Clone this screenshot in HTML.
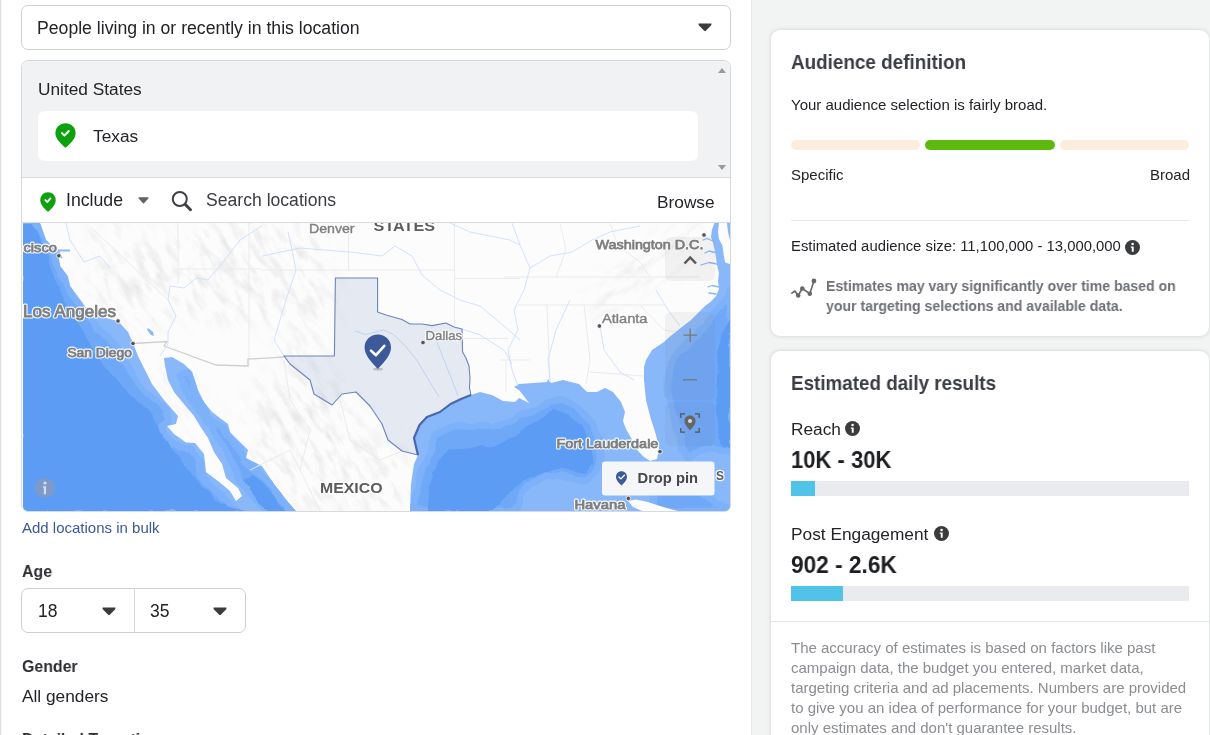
<!DOCTYPE html>
<html><head><meta charset="utf-8"><style>
*{box-sizing:border-box;margin:0;padding:0}
html,body{width:1210px;height:735px;overflow:hidden;background:#f2f4f4;font-family:"Liberation Sans",sans-serif;color:#222428}
.abs{position:absolute}
#left{position:absolute;left:0;top:0;width:752px;height:735px;background:#fff;border-left:1px solid #e0e3e4;border-right:1px solid #e7eaea;box-shadow:inset 1px 0 0 #f6f7f7}
.t{position:absolute;white-space:nowrap;line-height:20px;height:20px;transform-origin:0 50%;will-change:transform}
.b{font-weight:700}
#sel{left:21px;top:5px;width:710px;height:45px;border:1px solid #ccd0d5;border-radius:7px;background:#fff}
#loc{left:21px;top:60px;width:710px;height:452px;border:1px solid #d6d9dd;border-radius:7px;background:#fff;overflow:hidden}
#locgray{left:0;top:0;width:709px;height:117px;background:#f1f2f3;border-bottom:1px solid #d9dbdf}
#texas{left:16px;top:50px;width:660px;height:50px;background:#fff;border-radius:7px}
.card{position:absolute;background:#fff;border-radius:9px;box-shadow:0 0 4px rgba(0,0,0,.15)}
.bar{position:absolute;height:10px;border-radius:5px}
.pbar{position:absolute;left:791px;width:398px;height:15px;background:#e9ebee}
.pbar i{position:absolute;left:0;top:0;height:15px;background:#4fc3e8;display:block}
.hr{position:absolute;height:1px;background:#e4e6e9}
.ml,.mlh,.mc,.mch,.ml2,.ml2h{font-family:"Liberation Sans",sans-serif}
.ml2h{font-weight:400;fill:#fff;stroke:#fff;stroke-width:2.600px;stroke-linejoin:round;opacity:.9}
.ml2{font-weight:400;fill:#808080;stroke:#808080;stroke-width:.4px}
.mlh{font-weight:400;fill:#fff;stroke:#fff;stroke-width:3px;stroke-linejoin:round;opacity:.9}
.ml{font-weight:400;fill:#7e7e7e;stroke:#7e7e7e;stroke-width:.75px}
.mch{font-weight:700;fill:#fff;stroke:#fff;stroke-width:2.500px;stroke-linejoin:round;opacity:.9}
.mc{font-weight:700;fill:#5c5c5c}
</style></head><body>
<div id="left"></div>

<!-- select -->
<div id="sel" class="abs"></div>
<div class="t" style="left:37px;top:17.5px;font-size:17.65px;color:#222428">People living in or recently in this location</div>
<svg class="abs" style="left:698px;top:23px" width="14" height="9" viewBox="0 0 14 9"><path d="M0.6 0.5 L13.4 0.5 Q13.8 1.6 13 2.4 L7.8 7.8 Q7 8.5 6.2 7.8 L1 2.4 Q0.2 1.6 0.6 0.5Z" fill="#3a3b3d"/></svg>

<!-- location box -->
<div id="loc" class="abs">
  <div id="locgray" class="abs"><div id="texas" class="abs"></div></div>
</div>
<div class="t" style="left:37.5px;top:78.5px;font-size:17.3px">United States</div>
<div class="t" style="left:92.5px;top:126px;font-size:17.3px">Texas</div>
<svg class="abs" style="left:55px;top:123px" width="21" height="25" viewBox="0 0 21 25"><path d="M10.5 0.2C4.6 0.2 0.4 4.6 0.4 10.2c0 5.6 5.2 10.4 10.1 14.6 4.900-4.200 10.100-9 10.100-14.600C20.600 4.600 16.400 0.200 10.500 0.200Z" fill="#0da20d"/><path d="M7 10.100l2.500 2.400 4.300-4.500" fill="none" stroke="#fff" stroke-width="1.900" stroke-linecap="round" stroke-linejoin="round"/></svg>
<svg class="abs" style="left:718px;top:67.500px" width="8" height="5" viewBox="0 0 8 5"><path d="M0 5L4 0L8 5Z" fill="#9b9b9b"/></svg>
<svg class="abs" style="left:718px;top:165px" width="8" height="5" viewBox="0 0 8 5"><path d="M0 0L4 5L8 0Z" fill="#9b9b9b"/></svg>

<!-- include row -->
<svg class="abs" style="left:40px;top:192px" width="16" height="20" viewBox="0 0 21 25" preserveAspectRatio="none"><path d="M10.500 0.200C4.600 0.200 0.400 4.600 0.400 10.200c0 5.600 5.200 10.400 10.100 14.600 4.900-4.200 10.100-9 10.100-14.600C20.600 4.600 16.400 0.200 10.500 0.200Z" fill="#0da20d"/><path d="M7 10.100l2.500 2.400 4.300-4.500" fill="none" stroke="#fff" stroke-width="2.300" stroke-linecap="round" stroke-linejoin="round"/></svg>
<div class="t" style="left:66px;top:189.600px;font-size:17.700px">Include</div>
<svg class="abs" style="left:138px;top:197.400px" width="11" height="7" viewBox="0 0 11 7"><path d="M0.600 0.300L10.400 0.300Q10.800 0.900 10.300 1.500L6 6.200Q5.500 6.600 5 6.200L0.700 1.500Q0.200 0.900 0.600 0.300Z" fill="#606266"/></svg>
<svg class="abs" style="left:171px;top:190px" width="22" height="22" viewBox="0 0 22 22"><circle cx="8.800" cy="9" r="7" fill="none" stroke="#3e4044" stroke-width="2"/><path d="M14.200 14.400L19.500 19.700" stroke="#3e4044" stroke-width="2.900" stroke-linecap="round"/></svg>
<div class="t" style="left:206px;top:189.600px;font-size:17.600px;color:#3a3c40">Search locations</div>
<div class="t" style="left:657px;top:192px;font-size:17.300px">Browse</div>
<div class="hr" style="left:22px;top:222px;width:708px;background:#d9dbdf"></div>

<!-- MAP -->
<svg id="map" class="abs" style="left:23px;top:223px;border-radius:0 0 5px 5px;will-change:transform" width="707" height="288" viewBox="23 223 707 288">
<defs>
<filter id="bl"><feGaussianBlur stdDeviation="3"/></filter>
<filter id="bl2"><feGaussianBlur stdDeviation="14"/></filter>
<filter id="relieff" x="0" y="0" width="100%" height="100%"><feTurbulence type="fractalNoise" baseFrequency="0.04 0.12" numOctaves="4" seed="11" result="n"/><feColorMatrix in="n" type="matrix" values="0 0 0 0 0.64  0 0 0 0 0.64  0 0 0 0 0.64  1.200 0 0 0 -0.540"/></filter>
<filter id="rough" x="-2%" y="-2%" width="104%" height="104%"><feTurbulence type="fractalNoise" baseFrequency="0.045" numOctaves="3" seed="3" result="n"/><feDisplacementMap in="SourceGraphic" in2="n" scale="7" xChannelSelector="R" yChannelSelector="G"/></filter>
<mask id="reliefm"><g filter="url(#bl2)" fill="#fff">
<ellipse cx="130" cy="275" rx="40" ry="60" transform="rotate(-35 130 275)"/>
<ellipse cx="230" cy="270" rx="80" ry="50"/>
<ellipse cx="300" cy="290" rx="30" ry="70"/>
<ellipse cx="310" cy="440" rx="55" ry="80" transform="rotate(-25 310 440)"/>
<ellipse cx="385" cy="480" rx="25" ry="40"/>
<ellipse cx="190" cy="400" rx="10" ry="50" transform="rotate(-30 190 400)"/>
</g></mask>
<mask id="reliefm2"><g filter="url(#bl2)" fill="#fff"><ellipse cx="645" cy="268" rx="16" ry="75" transform="rotate(52 645 268)"/></g></mask>
</defs>
<rect x="22" y="223" width="708" height="288" fill="#fcfcfc"/>
<g id="relief"><g mask="url(#reliefm)"><rect x="-400" y="-400" width="1600" height="1600" filter="url(#relieff)" transform="rotate(60 376 367)"/></g><g mask="url(#reliefm2)"><rect x="-400" y="-400" width="1600" height="1600" filter="url(#relieff)" transform="rotate(-38 376 367)"/></g></g><!--/relief-->
<g id="water"><clipPath id="wclip"><path d="M22 223 L40 223 L46 240 L58 252 L60 266 L68 276 L70 286 L82 302 L86 308 L106 318 L118 321 L128 332 L133 343 L138 356 L142 364 L152 384 L164 400 L178 416 L176 424 L167 426 L174 434 L186 442.5 L195 443 L204 454 L206 472 L218 481 L230 491 L236 501 L242 496 L238 488 L226 478 L222 464 L214 452 L208 438 L200 426 L194 416 L184 404 L174 392 L168 380 L165 366 L164 358 L172 357 L184 364 L192 372 L198 390 L204 402 L212 412 L228 424 L230 432 L240 442 L248 450 L246 458 L262 466 L274 484 L288 502 L296 511 L22 511Z"/><path d="M410 511 L411 484 L414 464 L418 455 L417 451 L414 438 L419.5 425 L427 417 L440 412 L450.5 404 L461 399 L471 395 L480 392 L492 395 L503 401 L515 402 L519 398 L529 403 L523 395 L519 390 L514 387 L519 384 L533 383 L547 382 L548 379 L551 383 L563 380 L579 384 L587 392 L597 392 L605 388 L613 392 L621 402 L625 412 L623 421 L626 429 L634 443 L638 451 L644 457 L650 461 L657 459 L659 449 L656 435 L650 416 L646 400 L644 380 L644 367 L646 360 L652 350 L658 346 L664 342 L670 336.5 L680.6 328 L691 320 L699 312 L705 306 L711 301.6 L716 296 L719 289 L718 281 L719 272 L725 265 L730 264 L730 511Z"/></clipPath>
<path d="M22 223 L40 223 L46 240 L58 252 L60 266 L68 276 L70 286 L82 302 L86 308 L106 318 L118 321 L128 332 L133 343 L138 356 L142 364 L152 384 L164 400 L178 416 L176 424 L167 426 L174 434 L186 442.5 L195 443 L204 454 L206 472 L218 481 L230 491 L236 501 L242 496 L238 488 L226 478 L222 464 L214 452 L208 438 L200 426 L194 416 L184 404 L174 392 L168 380 L165 366 L164 358 L172 357 L184 364 L192 372 L198 390 L204 402 L212 412 L228 424 L230 432 L240 442 L248 450 L246 458 L262 466 L274 484 L288 502 L296 511 L22 511Z" fill="#89b8fa"/>
<path d="M410 511 L411 484 L414 464 L418 455 L417 451 L414 438 L419.5 425 L427 417 L440 412 L450.5 404 L461 399 L471 395 L480 392 L492 395 L503 401 L515 402 L519 398 L529 403 L523 395 L519 390 L514 387 L519 384 L533 383 L547 382 L548 379 L551 383 L563 380 L579 384 L587 392 L597 392 L605 388 L613 392 L621 402 L625 412 L623 421 L626 429 L634 443 L638 451 L644 457 L650 461 L657 459 L659 449 L656 435 L650 416 L646 400 L644 380 L644 367 L646 360 L652 350 L658 346 L664 342 L670 336.5 L680.6 328 L691 320 L699 312 L705 306 L711 301.6 L716 296 L719 289 L718 281 L719 272 L725 265 L730 264 L730 511Z" fill="#89b8fa"/>
<g clip-path="url(#wclip)"><g filter="url(#rough)">
<path d="M22 223 L37 223 L44 240 L54 254 L62 274 L70 290 L80 305 L88 316 L96 326 L106 336 L116 348 L125 362 L136 379 L146 392 L156 400 L164 410 L168 421 L160 428 L168 439 L180 448 L192 450 L199 459 L201 475 L211 487 L223 497 L231 507 L238 511 L22 511Z" fill="#6fa8f8" stroke="#7db1f9" stroke-width="7" stroke-linejoin="round"/>
<path d="M180 376 L190 396 L200 412 L212 428 L222 444 L232 462 L240 478 L250 494 L262 506 L272 511 L292 511 L284 500 L272 486 L260 472 L244 462 L240 448 L228 436 L222 428 L208 418 L200 404 L194 388 L188 372Z" fill="#6fa8f8" stroke="#7db1f9" stroke-width="7" stroke-linejoin="round"/>
<path d="M411.6 511 L420.8 472.6 L430 449.4 L434.7 433.2 L457.9 426.3 L492.6 426.3 L515.7 419.3 L534.2 410 L548 403 L562 398.5 L580.5 410 L592 421.7 L599 440 L601.3 456.4 L596.7 472.6 L585 481.8 L562 477 L543.5 475 L529.6 484 L520.3 495.7 L515.7 511Z" fill="#6fa8f8" stroke="#7db1f9" stroke-width="7" stroke-linejoin="round"/>
<path d="M730 290 L726 300 L716 312 L704 326 L692 338 L680 350 L672 362 L668 376 L668 392 L672 412 L678 432 L682 450 L690 458 L700 452 L716 448 L730 452Z" fill="#6fa8f8" stroke="#7db1f9" stroke-width="7" stroke-linejoin="round"/>
<path d="M650 511 L656 490 L668 478 L690 482 L704 494 L716 503 L730 507 L730 511Z" fill="#6fa8f8" stroke="#7db1f9" stroke-width="7" stroke-linejoin="round"/>
<path d="M22 223 L33 223 L39 240 L48 257 L55 277 L62 294 L71 310 L77 324 L87 340 L96 355 L107 369 L119 383 L133 397 L147 410 L156 423 L164 435 L174 450 L184 463 L194 475 L203 486 L214 498 L228 507 L245 511 L22 511Z" fill="#5b9cf5"/>
<path d="M244 478 L252 494 L262 506 L268 511 L286 511 L278 500 L266 486 L254 474Z" fill="#5b9cf5"/>
<path d="M427.8 511 L430 484 L437 461 L451 449.4 L492.6 447 L520.3 433 L538.9 419.3 L552.7 410 L566.6 414.7 L582.8 426.3 L592 444.8 L594.4 461 L585 472.6 L562 470 L543.5 470 L525 479.5 L511 491 L501.8 500 L492.6 511Z" fill="#5b9cf5"/>
<path d="M730 318 L724 330 L719 350 L717 380 L716 410 L718 436 L724 446 L730 448Z" fill="#5b9cf5"/>
</g></g>
<path d="M714.4 223 L719 223 L718 232 L719 239 L722.6 246 L723.8 255.5 L725 262.6 L730 264 L730 276 L719 273 L716.8 264 L715.6 255.5 L714.4 248.5 L713 242.6 L711 236.7 L712 229.7Z" fill="#89b8fa"/>
<path d="M727 223 L730 223 L730 240 L728 232Z" fill="#89b8fa"/>
<path d="M713 241L707 238.500L703 240M715 252.500L709 251L705 253M717 264L709 262.500L701 265M719 287L712 285.500L708 287M716 294L709 293" fill="none" stroke="#89b8fa" stroke-width="1.300" stroke-linecap="round" stroke-linejoin="round"/>
<path d="M628 501 L636 499.5 L648 502 L660 506 L672 509.5 L678 511 L642 511 L633 507Z" fill="#fcfcfc"/>
<path d="M148 328l5 4l1 4l-3-1l-4-5z" fill="#89b8fa"/>
<path d="M58 249.500h12v2h-10.500l3 6l-1.500 1l-3.500-7z" fill="#89b8fa"/></g><!--/water-->
<g id="lines"><path d="M262 270 L454 270" stroke="#ebebeb" stroke-width="1" fill="none"/>
<path d="M348.5 223 L348.5 270" stroke="#ebebeb" stroke-width="1" fill="none"/>
<path d="M454.5 223 L454.5 326" stroke="#ebebeb" stroke-width="1" fill="none"/>
<path d="M454 278.5 L520 278.5" stroke="#ebebeb" stroke-width="1" fill="none"/>
<path d="M462 338.5 L508 338.5" stroke="#ebebeb" stroke-width="1" fill="none"/>
<path d="M249 223 L249 366" stroke="#ebebeb" stroke-width="1" fill="none"/>
<path d="M178 223 L178 284" stroke="#ebebeb" stroke-width="1" fill="none"/>
<path d="M178 269 L262 269" stroke="#ebebeb" stroke-width="1" fill="none"/>
<path d="M94 230 L168 300" stroke="#ebebeb" stroke-width="1" fill="none"/>
<path d="M504 277 L700 277" stroke="#ebebeb" stroke-width="1" fill="none"/>
<path d="M518 305 L664 305" stroke="#ebebeb" stroke-width="1" fill="none"/>
<path d="M547 305 L550 382" stroke="#ebebeb" stroke-width="1" fill="none"/>
<path d="M584 305 L590 360 L586 384" stroke="#ebebeb" stroke-width="1" fill="none"/>
<path d="M590 372 L644 376" stroke="#ebebeb" stroke-width="1" fill="none"/>
<path d="M506 360 L506 392" stroke="#ebebeb" stroke-width="1" fill="none"/>
<path d="M500 360 L530 360" stroke="#ebebeb" stroke-width="1" fill="none"/>
<path d="M640 305 L664 330 L676 332" stroke="#ebebeb" stroke-width="1" fill="none"/>
<path d="M560 223 L566 250 L556 277" stroke="#ebebeb" stroke-width="1" fill="none"/>
<path d="M610 223 L618 246 L640 262 L650 277" stroke="#ebebeb" stroke-width="1" fill="none"/>
<path d="M284 360 L290 400 L310 430 L300 470 L320 511" stroke="#ebebeb" stroke-width="1" fill="none"/>
<path d="M340 400 L350 440 L380 460 L400 452" stroke="#ebebeb" stroke-width="1" fill="none"/>
<path d="M250 470 L290 450 L300 470" stroke="#ebebeb" stroke-width="1" fill="none"/>
<path d="M133 343.5 L167 341.5 L164 346 L216 365 L248 366 L248 359 L284 357" stroke="#cfcfcf" stroke-width="1.300" fill="none"/>
<path d="M262 226 L240 240 L220 266 L208 280 L196 278 L184 288 L170 286 L168 300 L176 316 L168 332 L168 344 L160 356" stroke="#cddffa" stroke-width="0.900" fill="none"/>
<path d="M288 232 L292 250 L296 270 L286 300 L274 340 L284 356" stroke="#cddffa" stroke-width="0.900" fill="none"/>
<path d="M262 256 L300 248 L350 252 L382 256 L395 246 L412 256 L422 275 L440 290 L460 300 L480 306 L504 326 L520 340" stroke="#cddffa" stroke-width="0.900" fill="none"/>
<path d="M462 329 L480 335 L504 350 L512 364" stroke="#cddffa" stroke-width="0.900" fill="none"/>
<path d="M512 223 L520 245 L530 268 L524 290 L514 310 L518 330 L508 350 L512 370 L518 386" stroke="#cddffa" stroke-width="0.900" fill="none"/>
<path d="M450 223 L470 232 L490 236 L510 240 L520 245" stroke="#cddffa" stroke-width="0.900" fill="none"/>
<path d="M530 268 L550 256 L572 252 L592 240 L610 232 L640 226" stroke="#cddffa" stroke-width="0.900" fill="none"/>
<path d="M66 223 L70 240 L84 262 L100 256 L110 268" stroke="#cddffa" stroke-width="0.900" fill="none"/>
<path d="M355 330.7 L365.3 334.6 L383.4 330 L393.7 334.6 L406.6 347.5 L417 360.4 L424.7 373.4 L432.5 386.3 L439 396.6" stroke="#cddffa" stroke-width="0.900" fill="none"/>
<path d="M436 340 L444 360 L452 380 L458 396" stroke="#cddffa" stroke-width="0.900" fill="none"/>
<path d="M600 326 L604 350 L620 372 L634 380" stroke="#cddffa" stroke-width="0.900" fill="none"/>
<path d="M656 290 L668 310 L680 326" stroke="#cddffa" stroke-width="0.900" fill="none"/>
<path d="M570 300 L556 330 L548 360 L550 380" stroke="#cddffa" stroke-width="0.900" fill="none"/></g><!--/lines-->
<g id="texasg"><path d="M335.4 278 L377.6 278 L377.6 312 L386 315 L402 319.5 L410 324 L422 324 L432 325.6 L446 323 L454 327 L462 329 L462.6 352 L466 358 L469 366 L470 378 L469.5 388 L471 395 L461 399 L450.5 404 L440 412 L427 417 L419.5 425 L414 438 L417 451 L418 455 L402 451 L388 440 L382 424 L370 406 L356 392 L342 394 L332 405 L314 394 L310 380 L290 364 L284 356 L334.4 356Z" fill="rgba(60,100,170,0.12)" stroke="#6b85bb" stroke-width="1.100" stroke-linejoin="round"/>
<path d="M471 395 L461 399 L450.5 404 L440 412 L427 417 L419.5 425 L414 438 L417 451 L418 455" fill="none" stroke="#4a69ad" stroke-width="2.2" stroke-linejoin="round"/>
<ellipse cx="378" cy="369" rx="5" ry="1.6" fill="rgba(0,0,0,.18)"/>
<path d="M377.800 334.500c-7.500 0-13.200 5.700-13.200 12.900 0 7.600 6.600 14.200 13.200 21.600 6.600-7.400 13.200-14 13.200-21.600 0-7.200-5.700-12.900-13.200-12.900z" fill="#3c5a9a"/>
<path d="M371 350.600L376 355.200L384.300 345.800" fill="none" stroke="#fff" stroke-width="2.600" stroke-linecap="round" stroke-linejoin="round"/></g><!--/texasg-->
<g id="labels"><circle cx="58.8" cy="255.7" r="2.300" fill="#555" stroke="#fff" stroke-width=".8"/>
<circle cx="118" cy="321" r="2.300" fill="#555" stroke="#fff" stroke-width=".8"/>
<circle cx="133" cy="343.5" r="2.300" fill="#555" stroke="#fff" stroke-width=".8"/>
<circle cx="423" cy="342.6" r="2.300" fill="#555" stroke="#fff" stroke-width=".8"/>
<circle cx="704" cy="235" r="2.300" fill="#555" stroke="#fff" stroke-width=".8"/>
<circle cx="599.4" cy="326" r="2.300" fill="#555" stroke="#fff" stroke-width=".8"/>
<circle cx="660" cy="451.6" r="2.300" fill="#555" stroke="#fff" stroke-width=".8"/>
<circle cx="628.4" cy="498.4" r="2.300" fill="#555" stroke="#fff" stroke-width=".8"/>
<text x="23.5" y="252.2" font-size="13.6" textLength="33.5" lengthAdjust="spacingAndGlyphs" class="mlh" >cisco</text>
<text x="23.5" y="252.2" font-size="13.6" textLength="33.5" lengthAdjust="spacingAndGlyphs" class="ml" >cisco</text>
<text x="23" y="317.2" font-size="16.3" textLength="93" lengthAdjust="spacingAndGlyphs" class="mlh" >Los Angeles</text>
<text x="23" y="317.2" font-size="16.3" textLength="93" lengthAdjust="spacingAndGlyphs" class="ml" >Los Angeles</text>
<text x="67.4" y="356.7" font-size="13.2" textLength="64.5" lengthAdjust="spacingAndGlyphs" class="mlh" >San Diego</text>
<text x="67.4" y="356.7" font-size="13.2" textLength="64.5" lengthAdjust="spacingAndGlyphs" class="ml" >San Diego</text>
<text x="309" y="233" font-size="13.2" textLength="45.5" lengthAdjust="spacingAndGlyphs" class="ml2h" >Denver</text>
<text x="309" y="233" font-size="13.2" textLength="45.5" lengthAdjust="spacingAndGlyphs" class="ml2" >Denver</text>
<text x="373.6" y="231" font-size="14.5" textLength="61.5" lengthAdjust="spacingAndGlyphs" class="mch" >STATES</text>
<text x="373.6" y="231" font-size="14.5" textLength="61.5" lengthAdjust="spacingAndGlyphs" class="mc" >STATES</text>
<text x="425.6" y="339.6" font-size="13.2" textLength="36.5" lengthAdjust="spacingAndGlyphs" class="ml2h" >Dallas</text>
<text x="425.6" y="339.6" font-size="13.2" textLength="36.5" lengthAdjust="spacingAndGlyphs" class="ml2" >Dallas</text>
<text x="595.6" y="249" font-size="13.6" textLength="107.8" lengthAdjust="spacingAndGlyphs" class="mlh" >Washington D.C.</text>
<text x="595.6" y="249" font-size="13.6" textLength="107.8" lengthAdjust="spacingAndGlyphs" class="ml" >Washington D.C.</text>
<text x="602" y="323" font-size="13.2" textLength="45.5" lengthAdjust="spacingAndGlyphs" class="ml2h" >Atlanta</text>
<text x="602" y="323" font-size="13.2" textLength="45.5" lengthAdjust="spacingAndGlyphs" class="ml2" >Atlanta</text>
<text x="556.4" y="448" font-size="13.2" textLength="102" lengthAdjust="spacingAndGlyphs" class="mlh" >Fort Lauderdale</text>
<text x="556.4" y="448" font-size="13.2" textLength="102" lengthAdjust="spacingAndGlyphs" class="ml" >Fort Lauderdale</text>
<text x="574.4" y="509" font-size="13.2" textLength="51" lengthAdjust="spacingAndGlyphs" class="mlh" >Havana</text>
<text x="574.4" y="509" font-size="13.2" textLength="51" lengthAdjust="spacingAndGlyphs" class="ml" >Havana</text>
<text x="320" y="493" font-size="15.3" textLength="62.5" lengthAdjust="spacingAndGlyphs" class="mch" >MEXICO</text>
<text x="320" y="493" font-size="15.3" textLength="62.5" lengthAdjust="spacingAndGlyphs" class="mc" >MEXICO</text>
<text x="716" y="479.5" font-size="13" textLength="8" lengthAdjust="spacingAndGlyphs" class="mch" >S</text>
<text x="716" y="479.5" font-size="13" textLength="8" lengthAdjust="spacingAndGlyphs" class="mc" >S</text></g><!--/labels-->
<g id="ctrls"><rect x="665" y="237" width="50" height="44" rx="6" fill="rgba(110,110,110,0.075)"/>
<path d="M684.500 263.500L690.200 257.500L696 263.500" fill="none" stroke="#5a5a5a" stroke-width="2.500"/>
<rect x="665" y="312" width="50" height="88" rx="6" fill="rgba(110,110,110,0.075)"/>
<path d="M683.500 335.200h13.500M690.200 328.500v13.500" stroke="#777" stroke-width="1.300" fill="none"/>
<path d="M683 379.800h14" stroke="#777" stroke-width="1.300" fill="none"/>
<rect x="665" y="402" width="50" height="44" rx="6" fill="rgba(110,110,110,0.075)"/>
<path d="M680.800 418v-4.200h4.200M695 413.800h4.200v4.200M699.200 428v4.200h-4.200M685 432.200h-4.200v-4.200" fill="none" stroke="#555" stroke-width="1.300"/>
<path d="M690 415.500c-3.200 0-5.600 2.400-5.600 5.500 0 3.300 2.800 6 5.600 9.200 2.800-3.200 5.600-5.900 5.600-9.200 0-3.100-2.400-5.500-5.600-5.500z" fill="#666"/><circle cx="690" cy="421" r="2" fill="#d8dde6"/>
<circle cx="45" cy="488" r="10" fill="#7f99c9"/><circle cx="45" cy="483" r="1.600" fill="#cfe0fb"/><path d="M43.200 486.200h2.900v8h-2.300v-6.300h-.6z" fill="#cfe0fb"/>
<rect x="602" y="461.500" width="112.500" height="34" rx="3" fill="#f5f6f7"/>
<path d="M621.500 471.300c-3.200 0-5.500 2.400-5.500 5.600 0 3.300 2.700 5.700 5.500 8.700 2.800-3 5.500-5.400 5.500-8.700 0-3.200-2.300-5.600-5.500-5.600z" fill="#3c5a9a"/><path d="M619 477l1.900 1.900l3.500-3.700" fill="none" stroke="#fff" stroke-width="1.300" stroke-linecap="round" stroke-linejoin="round"/>
<text x="637.500" y="483" font-size="15.300" font-weight="700" font-family="Liberation Sans" fill="#45474a" textLength="60.500" lengthAdjust="spacingAndGlyphs">Drop pin</text></g><!--/ctrls-->
</svg>

<!-- below map -->
<div class="t" style="left:21.500px;top:517.500px;font-size:15px;color:#3b5998">Add locations in bulk</div>
<div class="t b" style="left:21.500px;top:561px;font-size:17.400px;transform:scaleX(.915);color:#2b2d31">Age</div>
<div class="abs" style="left:21px;top:588px;width:225px;height:45px;border:1px solid #ccd0d5;border-radius:7px"></div>
<div class="abs" style="left:134px;top:589px;width:1px;height:43px;background:#d4d7db"></div>
<div class="t" style="left:37.500px;top:600.500px;font-size:17.500px">18</div>
<div class="t" style="left:150px;top:600.500px;font-size:17.500px">35</div>
<svg class="abs" style="left:102px;top:607px" width="14" height="9" viewBox="0 0 14 9"><path d="M0.600 0.500 L13.400 0.500 Q13.800 1.600 13 2.400 L7.800 7.800 Q7 8.500 6.200 7.800 L1 2.400 Q0.200 1.600 0.600 0.500Z" fill="#3a3b3d"/></svg>
<svg class="abs" style="left:213px;top:607px" width="14" height="9" viewBox="0 0 14 9"><path d="M0.600 0.500 L13.400 0.500 Q13.800 1.600 13 2.400 L7.800 7.800 Q7 8.500 6.200 7.800 L1 2.400 Q0.200 1.600 0.600 0.500Z" fill="#3a3b3d"/></svg>
<div class="t b" style="left:21.500px;top:656px;font-size:17.400px;transform:scaleX(.915);color:#2b2d31">Gender</div>
<div class="t" style="left:21.500px;top:686px;font-size:17.300px">All genders</div>
<div class="t b" style="left:21.500px;top:729px;font-size:17.400px;transform:scaleX(.915);color:#2b2d31">Detailed Targeting</div>

<!-- right cards -->
<div class="card" style="left:771px;top:30px;width:438px;height:306px"></div>
<div class="card" style="left:771px;top:351px;width:438px;height:420px"></div>

<div class="t b" style="left:791px;top:52px;font-size:20.500px;transform:scaleX(.92);color:#3a3d42">Audience definition</div>
<div class="t" style="left:791px;top:95px;font-size:15px">Your audience selection is fairly broad.</div>
<div class="bar" style="left:791px;top:140px;width:129px;background:#fdeddc"></div>
<div class="bar" style="left:925px;top:140px;width:130px;background:#5dba0d"></div>
<div class="bar" style="left:1060px;top:140px;width:129px;background:#fdeddc"></div>
<div class="t" style="left:791px;top:165px;font-size:15px">Specific</div>
<div class="t" style="left:1149.500px;top:165px;font-size:15px">Broad</div>
<div class="hr" style="left:791px;top:220px;width:398px"></div>
<div class="t" style="left:791px;top:236px;font-size:14.850px">Estimated audience size: 11,100,000 - 13,000,000</div>
<svg class="abs info" style="left:1125px;top:240px" width="15" height="15" viewBox="0 0 15 15"><circle cx="7.500" cy="7.500" r="7.500" fill="#3a3b3d"/><circle cx="7.600" cy="4" r="1.300" fill="#fff"/><path d="M5.800 6.400h2.900v5.300h-1.900v-3.900h-1z" fill="#fff"/></svg>
<svg class="abs" style="left:790px;top:277px" width="28" height="24" viewBox="0 0 28 24"><path d="M1.900 16.200L4.900 14L8.200 18.500L12.300 11.500L19.800 16.700L23.900 4" fill="none" stroke="#65676b" stroke-width="1.600" stroke-linejoin="round" stroke-linecap="round"/><circle cx="8.200" cy="18.500" r="2.300" fill="#65676b"/><circle cx="12.300" cy="11.500" r="2.300" fill="#65676b"/><circle cx="19.800" cy="16.700" r="2.300" fill="#65676b"/><circle cx="23.900" cy="4" r="2.400" fill="#65676b"/></svg>
<div class="t b" style="left:826px;top:275.500px;font-size:15.200px;transform:scaleX(.927);color:#6d7075">Estimates may vary significantly over time based on</div>
<div class="t b" style="left:826px;top:295.500px;font-size:15.200px;transform:scaleX(.927);color:#6d7075">your targeting selections and available data.</div>

<div class="t b" style="left:791px;top:373px;font-size:20.500px;transform:scaleX(.918);color:#3a3d42">Estimated daily results</div>
<div class="t" style="left:791px;top:419px;font-size:17.300px">Reach</div>
<svg class="abs info" style="left:845px;top:421px" width="15" height="15" viewBox="0 0 15 15"><circle cx="7.500" cy="7.500" r="7.500" fill="#3a3b3d"/><circle cx="7.600" cy="4" r="1.300" fill="#fff"/><path d="M5.800 6.400h2.900v5.300h-1.900v-3.900h-1z" fill="#fff"/></svg>
<div class="t b" style="left:791px;top:450px;font-size:23px;transform:scaleX(.957);color:#1c1e21">10K - 30K</div>
<div class="pbar" style="top:481px"><i style="width:24px"></i></div>
<div class="t" style="left:791px;top:524px;font-size:17.300px">Post Engagement</div>
<svg class="abs info" style="left:934px;top:526px" width="15" height="15" viewBox="0 0 15 15"><circle cx="7.500" cy="7.500" r="7.500" fill="#3a3b3d"/><circle cx="7.600" cy="4" r="1.300" fill="#fff"/><path d="M5.800 6.400h2.900v5.300h-1.900v-3.900h-1z" fill="#fff"/></svg>
<div class="t b" style="left:791px;top:555px;font-size:23px;transform:scaleX(.985);color:#1c1e21">902 - 2.6K</div>
<div class="pbar" style="top:586px"><i style="width:52px"></i></div>
<div class="hr" style="left:771px;top:621px;width:438px"></div>
<div class="t" style="left:791px;top:638px;font-size:15px;color:#8a8d91">The accuracy of estimates is based on factors like past</div>
<div class="t" style="left:791px;top:658px;font-size:15px;color:#8a8d91">campaign data, the budget you entered, market data,</div>
<div class="t" style="left:791px;top:678px;font-size:15px;color:#8a8d91">targeting criteria and ad placements. Numbers are provided</div>
<div class="t" style="left:791px;top:698px;font-size:15px;color:#8a8d91">to give you an idea of performance for your budget, but are</div>
<div class="t" style="left:791px;top:718px;font-size:15px;color:#8a8d91">only estimates and don't guarantee results.</div>
</body></html>
